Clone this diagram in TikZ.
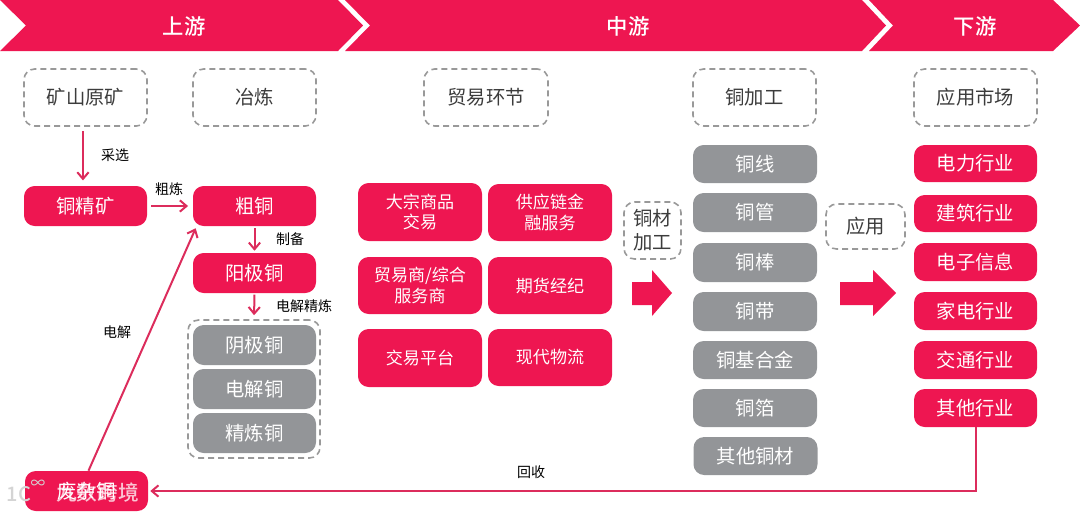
\documentclass[tikz,border=0pt]{standalone}
\usepackage{fontspec}
\setmainfont{Noto Sans CJK SC}
\newfontfamily\titlefont{Noto Sans CJK SC Medium}
\usetikzlibrary{arrows.meta}
\definecolor{pinkc}{HTML}{EE1651}
\definecolor{grayc}{HTML}{939598}
\definecolor{dashc}{HTML}{999999}
\definecolor{linec}{HTML}{DC2C5C}
\definecolor{inkc}{HTML}{3C3C3C}
\definecolor{wmc}{HTML}{D4D4D4}
\tikzset{
  x=0.75pt,y=-0.75pt,
  bx/.style n args={2}{minimum width=#1*0.75pt,minimum height=#2*0.75pt,inner sep=0pt,align=center,rounded corners=8pt},
  pinkbox/.style={fill=pinkc,text=white,font=\fontsize{14.5pt}{18pt}\selectfont},
  graybox/.style={fill=grayc,text=white,font=\fontsize{14.5pt}{18pt}\selectfont},
  tradebox/.style={fill=pinkc,text=white,font=\fontsize{12.8pt}{15.2pt}\selectfont},
  dashbox/.style={draw=dashc,line width=1.2pt,dash pattern=on 4.5pt off 3pt,text=inkc,font=\fontsize{14.5pt}{18pt}\selectfont},
  arr/.style={draw=linec,line width=1.5pt,-{Straight Barb[length=5pt,width=8.5pt,line width=1.5pt]}},
  lbl/.style={text=black,inner sep=0pt,font=\fontsize{10.5pt}{12pt}\selectfont},
  chev/.style={fill=pinkc,draw=none},
  ttl/.style={text=white,inner sep=0pt,font=\titlefont\fontsize{16pt}{18pt}\selectfont},
}
\begin{document}
\begin{tikzpicture}
\useasboundingbox (0,0) rectangle (1080,512);
% header chevrons
\fill[chev] (0,0)--(338,0)--(363,25.5)--(338,51)--(0,51)--(26,25.5)--cycle;
\fill[chev] (345,0)--(862,0)--(886,25.5)--(862,51)--(345,51)--(370,25.5)--cycle;
\fill[chev] (869,0)--(1053,0)--(1080,25.5)--(1053,51)--(869,51)--(893,25.5)--cycle;
\node[ttl] (t1) at (184,26) {上游};
\node[ttl] (t2) at (628,26) {中游};
\node[ttl] (t3) at (975,26) {下游};
% dashed headings
\node[bx={123}{57},dashbox] (d1) at (85.5,97.5) {矿山原矿};
\node[bx={123}{57},dashbox] (d2) at (254.5,97.5) {冶炼};
\node[bx={124}{57},dashbox] (d3) at (486,97.5) {贸易环节};
\node[bx={123}{57},dashbox] (d4) at (754.5,97.5) {铜加工};
\node[bx={123}{57},dashbox] (d5) at (975.5,97.5) {应用市场};
\node[bx={57}{57},dashbox] (d6) at (652.5,230.5) {铜材\\加工};
\node[bx={79}{45},dashbox] (d7) at (865.5,226.5) {应用};
% upstream
\node[bx={123}{40},pinkbox] (jk) at (85.5,206) {铜精矿};
\node[bx={123}{40},pinkbox] (ct) at (254.5,206) {粗铜};
\node[bx={123}{40},pinkbox] (yj) at (254.5,273) {阳极铜};
\node[bx={132}{138},dashbox] (grp) at (254,389) {};
\node[bx={123}{40},graybox] (g1) at (254.5,345) {阴极铜};
\node[bx={123}{40},graybox] (g2) at (254.5,389) {电解铜};
\node[bx={123}{40},graybox] (g3) at (254.5,433) {精炼铜};
\node[bx={123}{40},pinkbox] (fj) at (86.5,491) {废杂铜};
% trade
\node[bx={124}{58},tradebox] (a1) at (420,212) {大宗商品\\交易};
\node[bx={124}{57},tradebox] (a2) at (550,212.5) {供应链金\\融服务};
\node[bx={124}{57},tradebox] (a3) at (420,285.5) {贸易商/综合\\服务商};
\node[bx={124}{57},tradebox] (a4) at (550,285.5) {期货经纪};
\node[bx={124}{58},tradebox] (a5) at (420,358) {交易平台};
\node[bx={124}{57},tradebox] (a6) at (550,357.5) {现代物流};
% copper products
\node[bx={124}{38},graybox] (c1) at (755,164) {铜线};
\node[bx={124}{39},graybox] (c2) at (755,212.5) {铜管};
\node[bx={124}{39},graybox] (c3) at (755,262.5) {铜棒};
\node[bx={124}{39},graybox] (c4) at (755,311.5) {铜带};
\node[bx={124}{38},graybox] (c5) at (755,360) {铜基合金};
\node[bx={124}{38},graybox] (c6) at (755,408) {铜箔};
\node[bx={124}{38},graybox] (c7) at (755.5,456) {其他铜材};
% markets
\node[bx={123}{37},pinkbox] (m1) at (975.5,163.5) {电力行业};
\node[bx={123}{37},pinkbox] (m2) at (975.5,213.5) {建筑行业};
\node[bx={123}{38},pinkbox] (m3) at (975.5,262) {电子信息};
\node[bx={123}{38},pinkbox] (m4) at (975.5,311) {家电行业};
\node[bx={123}{38},pinkbox] (m5) at (975.5,360) {交通行业};
\node[bx={123}{38},pinkbox] (m6) at (975.5,408) {其他行业};
% block arrows
\fill[pinkc] (632,282)--(652,282)--(652,270)--(672,293)--(652,316)--(652,305)--(632,305)--cycle;
\fill[pinkc] (840,282)--(873,282)--(873,270)--(896,293)--(873,316)--(873,305)--(840,305)--cycle;
% connectors
\draw[arr,shorten <=3.5pt,shorten >=4pt] ([xshift=-1.9pt]d1.south) -- ([xshift=-1.9pt]jk.north);
\draw[arr,shorten <=3pt,shorten >=3.5pt] (jk.east) -- (ct.west);
\draw[arr,shorten <=1.5pt,shorten >=1.5pt] (ct.south) -- (yj.north);
\draw[arr,shorten <=1pt,shorten >=3pt] (yj.south) -- (grp.north);
\draw[arr] ([xshift=1.5pt]fj.north) -- ([xshift=2.2pt,yshift=-1.5pt]ct.south west);
\draw[arr,shorten >=1.5pt] (m6.south) |- (fj.east);
% labels
\node[lbl] (l1) at (115,155) {采选};
\node[lbl] (l2) at (169,189) {粗炼};
\node[lbl] (l3) at (290,239) {制备};
\node[lbl] (l4) at (304,306) {电解精炼};
\node[lbl] (l5) at (117,332) {电解};
\node[lbl] (l6) at (531,472) {回收};
% watermark over the node
\node[text=white,opacity=.75,inner sep=0pt,font=\titlefont\fontsize{15.5pt}{16pt}\selectfont] (wm) at (97.5,493) {九数跨境};
\node[text=wmc,inner sep=0pt,font=\titlefont\fontsize{15pt}{16pt}\selectfont] (wm1) at (19,494) {1C};
\node[text=wmc,inner sep=0pt,font=\fontsize{11pt}{12pt}\selectfont] (wm2) at (38,484) {∞};
\end{tikzpicture}
\end{document}
